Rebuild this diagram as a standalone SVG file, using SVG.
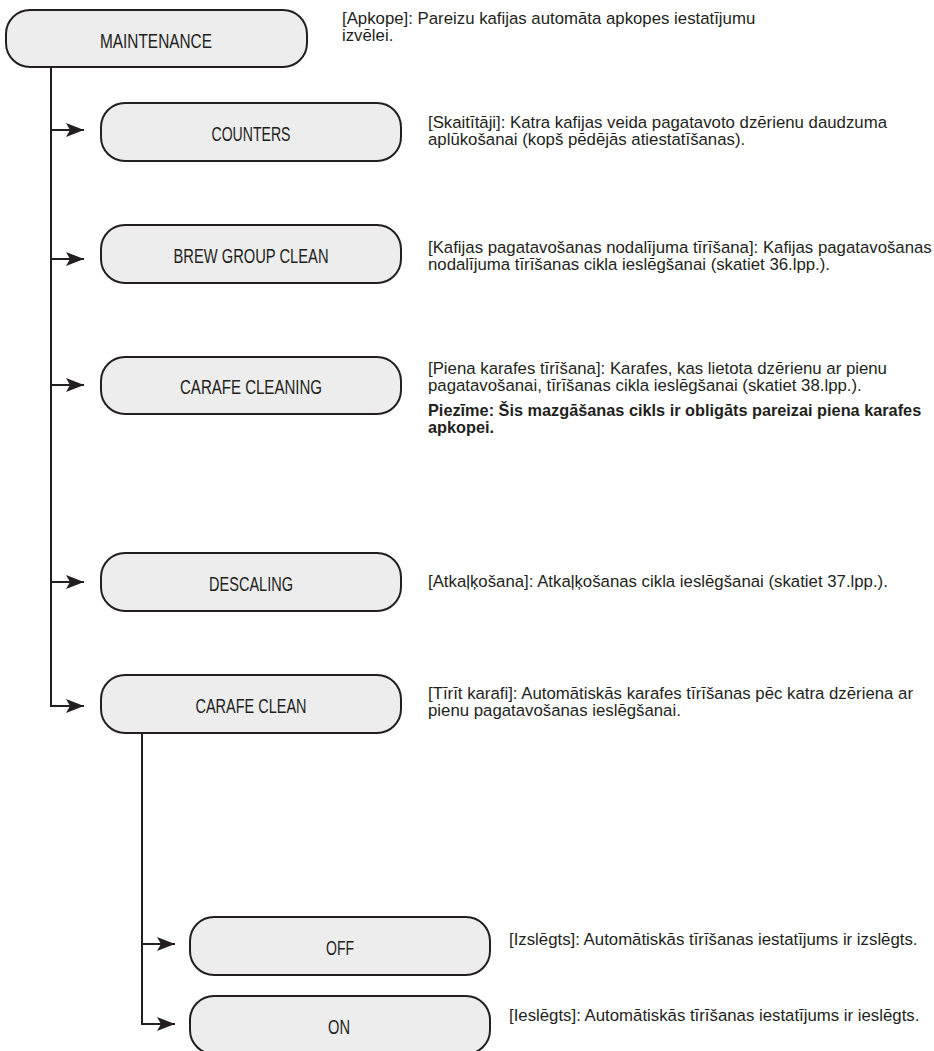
<svg xmlns="http://www.w3.org/2000/svg" width="934" height="1051" viewBox="0 0 934 1051">
<style>
.box{fill:#ededed;stroke:#231f20;stroke-width:2}
.lbl{font-family:"Liberation Sans Narrow","Liberation Sans",sans-serif;font-size:20px;fill:#231f20;text-anchor:middle}
.desc{font-family:"Liberation Sans Narrow","Liberation Sans",sans-serif;font-size:16.8px;fill:#231f20}
.bold{font-weight:bold;font-size:16.3px}
.conn{fill:none;stroke:#231f20;stroke-width:2}
</style>
<defs>
<marker id="arr" markerUnits="userSpaceOnUse" markerWidth="18" markerHeight="14" viewBox="0 0 18 14" refX="18" refY="7" orient="auto">
<path d="M0,0 L18,7 L0,14 L4,7 Z" fill="#231f20"/>
</marker>
</defs>
<rect width="934" height="1051" fill="#ffffff"/>
<g id="connectors">
<path class="conn" d="M51,67 V706 H84" marker-end="url(#arr)"/>
<path class="conn" d="M51,130 H84" marker-end="url(#arr)"/>
<path class="conn" d="M51,259 H84" marker-end="url(#arr)"/>
<path class="conn" d="M51,385 H84" marker-end="url(#arr)"/>
<path class="conn" d="M51,582 H84" marker-end="url(#arr)"/>
<path class="conn" d="M142,733 V1024 H175" marker-end="url(#arr)"/>
<path class="conn" d="M142,944 H175" marker-end="url(#arr)"/>
</g>
<g id="maintenance">
<rect class="box" x="6" y="10" width="301" height="57" rx="24"/>
<text class="lbl" x="156" y="48" textLength="112" lengthAdjust="spacingAndGlyphs">MAINTENANCE</text>
<text class="desc" x="342" y="24">[Apkope]: Pareizu kafijas automāta apkopes iestatījumu</text>
<text class="desc" x="342" y="41">izvēlei.</text>
</g>
<g id="counters">
<rect class="box" x="101" y="103" width="300" height="58" rx="24"/>
<text class="lbl" x="251" y="141" textLength="79" lengthAdjust="spacingAndGlyphs">COUNTERS</text>
<text class="desc" x="428" y="128">[Skaitītāji]: Katra kafijas veida pagatavoto dzērienu daudzuma</text>
<text class="desc" x="428" y="145">aplūkošanai (kopš pēdējās atiestatīšanas).</text>
</g>
<g id="brew-group-clean">
<rect class="box" x="101" y="225" width="300" height="58" rx="24"/>
<text class="lbl" x="251" y="263" textLength="155" lengthAdjust="spacingAndGlyphs">BREW GROUP CLEAN</text>
<text class="desc" x="428" y="253">[Kafijas pagatavošanas nodalījuma tīrīšana]: Kafijas pagatavošanas</text>
<text class="desc" x="428" y="270">nodalījuma tīrīšanas cikla ieslēgšanai (skatiet 36.lpp.).</text>
</g>
<g id="carafe-cleaning">
<rect class="box" x="101" y="357" width="300" height="57" rx="24"/>
<text class="lbl" x="251" y="394" textLength="142" lengthAdjust="spacingAndGlyphs">CARAFE CLEANING</text>
<text class="desc" x="428" y="374">[Piena karafes tīrīšana]: Karafes, kas lietota dzērienu ar pienu</text>
<text class="desc" x="428" y="391">pagatavošanai, tīrīšanas cikla ieslēgšanai (skatiet 38.lpp.).</text>
<text class="desc bold" x="428" y="416">Piezīme: Šis mazgāšanas cikls ir obligāts pareizai piena karafes</text>
<text class="desc bold" x="428" y="433">apkopei.</text>
</g>
<g id="descaling">
<rect class="box" x="101" y="553" width="300" height="58" rx="24"/>
<text class="lbl" x="251" y="591" textLength="84" lengthAdjust="spacingAndGlyphs">DESCALING</text>
<text class="desc" x="428" y="587">[Atkaļķošana]: Atkaļķošanas cikla ieslēgšanai (skatiet 37.lpp.).</text>
</g>
<g id="carafe-clean">
<rect class="box" x="101" y="675" width="300" height="58" rx="24"/>
<text class="lbl" x="251" y="713" textLength="111" lengthAdjust="spacingAndGlyphs">CARAFE CLEAN</text>
<text class="desc" x="428" y="699">[Tīrīt karafi]: Automātiskās karafes tīrīšanas pēc katra dzēriena ar</text>
<text class="desc" x="428" y="716">pienu pagatavošanas ieslēgšanai.</text>
</g>
<g id="off">
<rect class="box" x="190" y="917" width="300" height="58" rx="24"/>
<text class="lbl" x="340" y="955" textLength="28" lengthAdjust="spacingAndGlyphs">OFF</text>
<text class="desc" x="509" y="945">[Izslēgts]: Automātiskās tīrīšanas iestatījums ir izslēgts.</text>
</g>
<g id="on">
<rect class="box" x="190" y="996" width="300" height="58" rx="24"/>
<text class="lbl" x="339" y="1034" textLength="22" lengthAdjust="spacingAndGlyphs">ON</text>
<text class="desc" x="509" y="1021">[Ieslēgts]: Automātiskās tīrīšanas iestatījums ir ieslēgts.</text>
</g>
</svg>
